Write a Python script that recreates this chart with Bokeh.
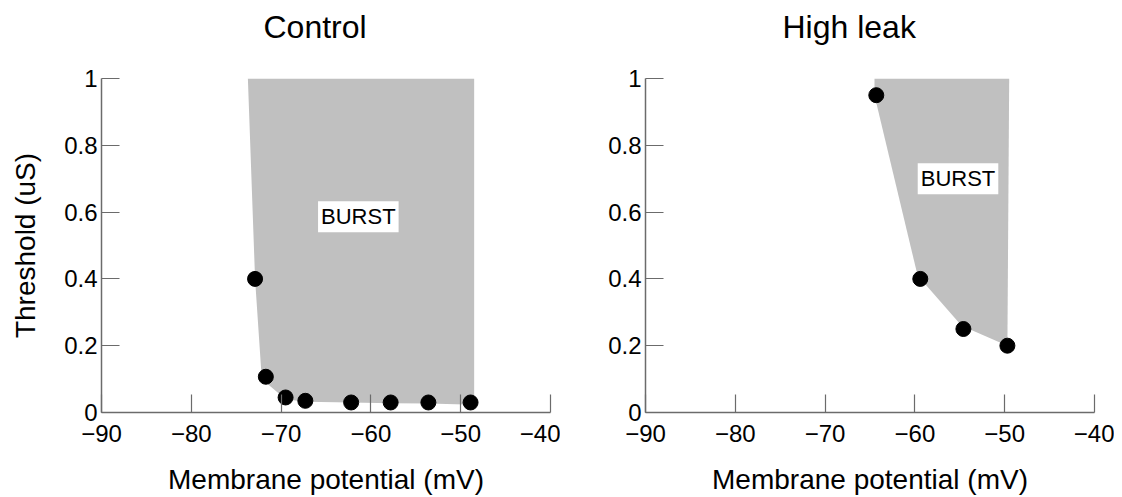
from bokeh.plotting import figure
from bokeh.layouts import row
from bokeh.models import Range1d, FixedTicker, Label, Title
from bokeh.embed import file_html
from bokeh.resources import INLINE

# ---- data ----
control_v = [-72.9, -71.7, -69.5, -67.3, -62.2, -57.8, -53.6, -48.9]
control_thr = [0.40, 0.107, 0.045, 0.035, 0.03, 0.03, 0.03, 0.03]
highleak_v = [-64.3, -59.4, -54.6, -49.7]
highleak_thr = [0.95, 0.40, 0.25, 0.20]

burst_ctrl_v = [-73.7, -73.3, -72.9, -72.2, -71.5, -69.5, -67.3, -62.2, -57.8, -53.6, -48.5, -48.5]
burst_ctrl_thr = [1.0, 0.7, 0.4, 0.12, 0.085, 0.04, 0.032, 0.03, 0.028, 0.027, 0.023, 1.0]
burst_hl_v = [-64.5, -64.5, -59.7, -54.8, -49.7, -49.5]
burst_hl_thr = [1.0, 0.95, 0.41, 0.26, 0.20, 1.0]

x_ticks = [-90, -80, -70, -60, -50, -40]
x_tick_labels = ["\u221290", "\u221280", "\u221270", "\u221260", "\u221250", "\u221240"]
y_ticks = [0, 0.2, 0.4, 0.6, 0.8, 1]
y_tick_labels = ["0", "0.2", "0.4", "0.6", "0.8", "1"]

titles = ["Control", "High leak"]
burst_label_pos = [(-61.4, 0.586), (-55.2, 0.70)]

FONT = "Liberation Sans"
AXIS_COLOR = "#6b6b6b"


def make_panel(title, title_offset, width, left, right, vs, thr, bv, bt, lab_pos, ylabel):
    p = figure(width=width, height=497, output_backend="svg", toolbar_location=None,
               x_range=Range1d(-90, -40), y_range=Range1d(0, 1),
               min_border_left=left, min_border_right=right,
               min_border_top=78, min_border_bottom=85)
    p.outline_line_color = None
    p.grid.visible = False

    # spacer between frame and title (nearest the frame)
    spacer = Title(text=" ", text_font_size="2px", standoff=21, text_color="white")
    p.add_layout(spacer, "above")
    t = Title(text=title, align="left", offset=title_offset, vertical_align="top",
              text_font=FONT, text_font_size="32px", text_font_style="normal",
              text_color="black", standoff=14)
    p.add_layout(t, "above")

    p.patch(bv, bt, fill_color="#c0c0c0", line_color=None)
    p.scatter(vs, thr, size=15, fill_color="black", line_color="black")

    lbl = Label(x=lab_pos[0], y=lab_pos[1], text="BURST", text_font=FONT,
                text_font_size="22px", text_align="center", text_baseline="middle",
                background_fill_color="white", padding=3, text_color="black")
    p.add_layout(lbl)

    for ax in (p.xaxis[0], p.yaxis[0]):
        ax.axis_line_color = AXIS_COLOR
        ax.axis_line_width = 1.5
        ax.major_tick_line_color = AXIS_COLOR
        ax.major_tick_line_width = 1.2
        ax.major_tick_in = 18
        ax.major_tick_out = 0
        ax.minor_tick_line_color = None
        ax.major_label_text_font = FONT
        ax.major_label_text_font_size = "24px"
        ax.major_label_text_color = "black"
        ax.axis_label_text_font = FONT
        ax.axis_label_text_font_size = "28px"
        ax.axis_label_text_font_style = "normal"
        ax.axis_label_text_color = "black"

    p.xaxis.ticker = FixedTicker(ticks=x_ticks)
    p.xaxis.major_label_overrides = dict(zip(x_ticks, x_tick_labels))
    p.xaxis.major_label_standoff = 12
    p.xaxis.axis_label = "Membrane potential (mV)"
    p.xaxis.axis_label_standoff = 19

    p.yaxis.ticker = FixedTicker(ticks=y_ticks)
    p.yaxis.major_label_overrides = dict(zip(y_ticks, y_tick_labels))
    p.yaxis.major_label_standoff = 4
    p.yaxis.major_label_orientation = "horizontal"
    if ylabel:
        p.yaxis.axis_label = ylabel
        p.yaxis.axis_label_standoff = 20
    return p


p1 = make_panel(titles[0], 162, 560, 101, 10, control_v, control_thr,
                burst_ctrl_v, burst_ctrl_thr, burst_label_pos[0], "Threshold (uS)")
p2 = make_panel(titles[1], 137, 554, 85, 20, highleak_v, highleak_thr,
                burst_hl_v, burst_hl_thr, burst_label_pos[1], None)

layout = row(p1, p2)
open("out.html", "w").write(file_html(layout, INLINE))
